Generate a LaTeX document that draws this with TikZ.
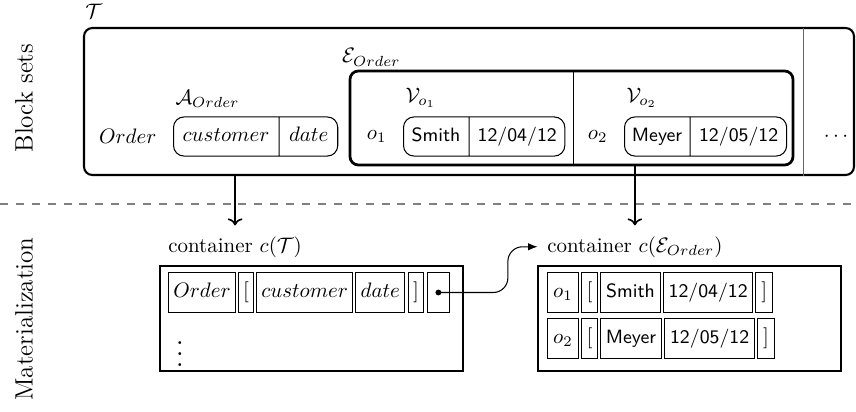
\documentclass[tikz,border=0pt]{standalone}
\usetikzlibrary{positioning, arrows.meta, fit, shapes.multipart}

% values are set in a slightly smaller sans
\newcommand{\val}[1]{{\fontsize{9.2pt}{11pt}\selectfont\textsf{#1}}}
% one field of a rounded attribute box
\newcommand{\fld}[2]{\makebox[#1]{\rule[-6.85pt]{0pt}{18.7pt}#2}}

\tikzset{
  blockset/.style={draw, rounded corners=4pt, inner sep=0pt},
  attrs/.style={draw, line width=0.5pt, rounded corners=5pt,
    rectangle split, rectangle split horizontal, rectangle split parts=2,
    inner sep=0pt},
  cell/.style={draw, line width=0.5pt, minimum width=#1, minimum height=18.7pt,
    inner sep=0pt, text height=7pt, text depth=2.5pt},
  container/.style={draw, semithick, inner sep=0pt},
  levelsep/.style={gray, line width=1pt, dash pattern=on 3.8pt off 3.8pt},
  side/.style={rotate=90, font=\large},
}

\begin{document}
\begin{tikzpicture}[x=0.478pt, y=-0.478pt]
  \useasboundingbox (0,0) rectangle (856,412);

  % the two levels
  \node[side] (blocks) at (24,98) {Block sets};
  \node[side] (mater) at (24,319) {Materialization};
  \draw[levelsep] (0,204) -- (856,204);

  % block set T
  \node[blockset, line width=1pt, fit={(84,28) (854,175)}] (tset) {};
  \node[anchor=south west, inner sep=0pt] (tlbl)
    at ([xshift=1pt, yshift=4pt]tset.north west) {$\mathcal{T}$};
  \coordinate (tdiv) at (803,28);
  \draw[gray!80!black] (tdiv) -- (tdiv |- tset.south);
  \node (more) at (836,137) {$\cdots$};

  % attributes of Order
  \node[attrs, anchor=west] (aorder) at (173,136.5)
    {\fld{50.2pt}{$customer$}\nodepart{two}\fld{27.8pt}{$date$}};
  \node[anchor=south west, inner sep=0pt] (albl)
    at ([xshift=1pt, yshift=4pt]aorder.north west) {$\mathcal{A}_{Order}$};
  \node[left=4.4pt of aorder] (oname) {$Order$};

  % entities of Order
  \node[blockset, line width=1.3pt, fit={(350,71) (793,165)}] (eorder) {};
  \node[anchor=south west, inner sep=0pt] (elbl)
    at ([xshift=-3.3pt, yshift=1.5pt]eorder.north west) {$\mathcal{E}_{Order}$};
  \coordinate (ediv) at (573,71);
  \draw (ediv) -- (ediv |- eorder.south);

  \node[attrs, anchor=west] (vo1) at (403,136.5)
    {\fld{31.1pt}{\val{Smith}}\nodepart{two}\fld{45.5pt}{\val{12/04/12}}};
  \node[anchor=south west, inner sep=0pt] (v1lbl)
    at ([xshift=1pt, yshift=4pt]vo1.north west) {$\mathcal{V}_{o_1}$};
  \node[left=4.4pt of vo1] (o1) {$o_1$};

  \node[attrs, anchor=west] (vo2) at (624,136.5)
    {\fld{31.1pt}{\val{Meyer}}\nodepart{two}\fld{45.9pt}{\val{12/05/12}}};
  \node[anchor=south west, inner sep=0pt] (v2lbl)
    at ([xshift=1pt, yshift=4pt]vo2.north west) {$\mathcal{V}_{o_2}$};
  \node[left=4.4pt of vo2] (o2) {$o_2$};

  % container of T
  \node[container, fit={(160,266) (463,371)}] (ct) {};
  \node[anchor=base west, inner sep=0pt] (ctlbl) at (168,252) {container $c(\mathcal{T})$};
  \node[cell=32pt, anchor=west] (torder) at (168,292.5) {$Order$};
  \node[cell=7.2pt, right=1pt of torder] (topen) {[};
  \node[cell=45.8pt, right=1pt of topen] (tcust) {$customer$};
  \node[cell=23.5pt, right=1pt of tcust] (tdate) {$date$};
  \node[cell=7.6pt, right=1pt of tdate] (tclose) {]};
  \node[cell=10.8pt, right=1pt of tclose] (tref) {};
  \fill (tref.center) circle (1.4pt);
  \node[scale=1.3] (tmore) at (180,346) {$\vdots$};

  % container of E_Order
  \node[container, fit={(538,266) (841,371)}] (ce) {};
  \node[anchor=base west, inner sep=0pt] (celbl) at (547,252) {container $c(\mathcal{E}_{Order})$};
  \node[cell=14.8pt, anchor=west] (eoa) at (547,292.5) {$o_1$};
  \node[cell=7.5pt, right=1pt of eoa] (eoaopen) {[};
  \node[cell=28.7pt, right=1pt of eoaopen] (eoaname) {\val{Smith}};
  \node[cell=42.6pt, right=1pt of eoaname] (eoadate) {\val{12/04/12}};
  \node[cell=8pt, right=1pt of eoadate] (eoaclose) {]};

  \node[cell=14.8pt, anchor=west] (eob) at (547,338.5) {$o_2$};
  \node[cell=7.5pt, right=1pt of eob] (eobopen) {[};
  \node[cell=29.2pt, right=1pt of eobopen] (eobname) {\val{Meyer}};
  \node[cell=43pt, right=1pt of eobname] (eobdate) {\val{12/05/12}};
  \node[cell=8pt, right=1pt of eobdate] (eobclose) {]};

  % materialization arrows
  \draw[->, thick] (tset.south -| ctlbl.north) -- ([yshift=5pt]ctlbl.north);
  \draw[->, thick] (eorder.south -| celbl.north) -- ([yshift=5pt]celbl.north);
  \draw[line width=0.5pt, rounded corners=7pt, -{Latex[length=4.5pt, width=3.5pt]}]
    (tref.center) -| ([xshift=-18.7pt]celbl.west) -- ([xshift=-4.5pt]celbl.west);
\end{tikzpicture}
\end{document}
